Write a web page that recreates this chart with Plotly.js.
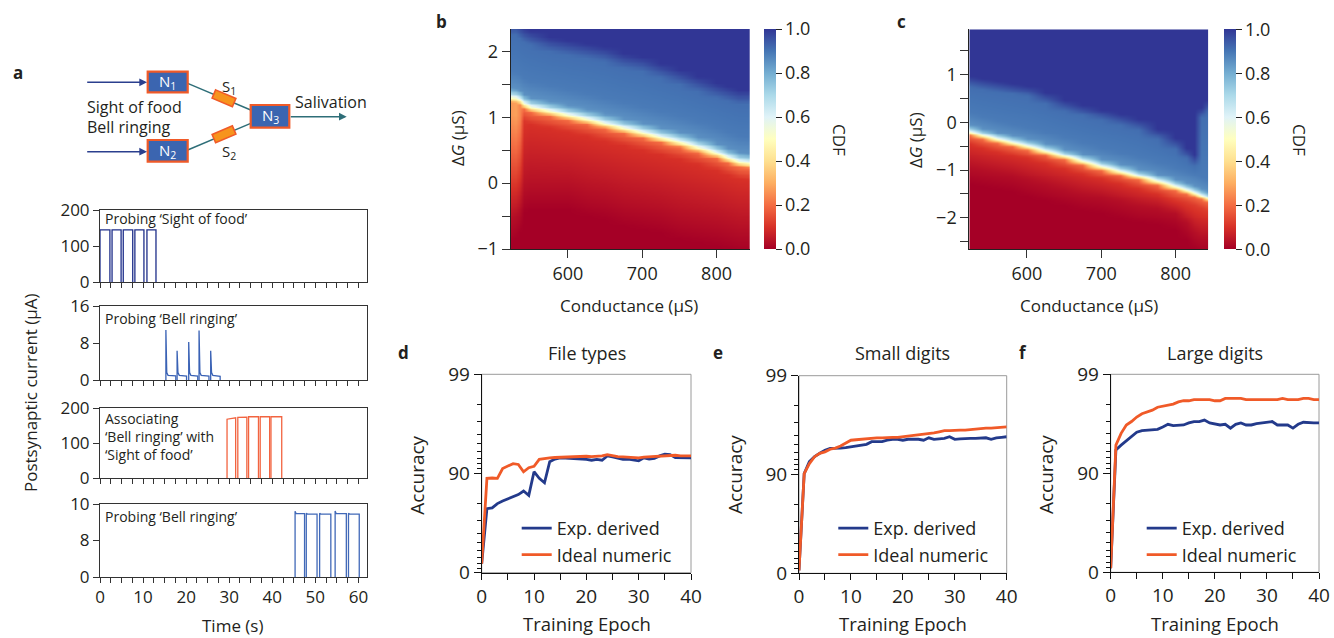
<!DOCTYPE html>
<html><head><meta charset="utf-8">
<script src="https://cdn.plot.ly/plotly-3.0.1.min.js"></script>
<style>html,body{margin:0;padding:0;background:#fff;}#chart{width:1334px;height:638px;}</style>
</head><body><div id="chart"></div>
<script>
// ================= DATA =================
// Panel a: pulse trains (time in s, current in µA)
const sofStart = [0, 2.8, 5.4, 8.1, 10.9];
const sofEnd   = [2.3, 4.9, 7.6, 10.2, 13.0];
const sofAmp   = [145, 145, 145, 145, 145];

const bellStart = [15.3, 17.9, 20.6, 23.0, 25.7];
const bellEnd   = [17.6, 20.1, 22.7, 25.3, 27.9];
const bellPeak  = [10.8, 6.3, 8.2, 10.7, 6.3];
const bellHold  = [0.9, 0.85, 0.85, 0.85, 0.8];

const assocStart = [29.5, 32.0, 34.5, 37.2, 39.7];
const assocEnd   = [31.5, 34.1, 36.8, 39.4, 42.2];
const assocTopA  = [168, 173, 175, 175, 175];
const assocTopB  = [172, 174, 175, 175, 175];

const probeStart = [45.3, 47.9, 51.0, 54.6, 57.7];
const probeEnd   = [47.5, 50.4, 53.6, 57.2, 60.2];
const probeOnset = [9.6, 9.5, 9.5, 9.62, 9.5];
const probeAmp   = [9.47, 9.45, 9.45, 9.47, 9.45];

// Panel b: CDF map landmarks per conductance column (µS)
const bCond = [523, 530, 535, 540, 550, 575, 600, 625, 650, 675, 700, 725, 750, 775, 800, 815, 830, 845];
const bMid  = [1.30, 1.29, 1.26, 1.20, 1.15, 1.09, 1.03, 0.97, 0.90, 0.83, 0.76, 0.69, 0.62, 0.54, 0.45, 0.38, 0.32, 0.30];
const bTop  = [2.25, 2.25, 2.2, 2.15, 2.1, 2.0, 1.95, 1.9, 1.85, 1.75, 1.7, 1.6, 1.5, 1.4, 1.3, 1.25, 1.2, 1.2];
const bLow  = [-0.55, -0.5, -0.4, -0.1, -0.05, -0.05, -0.05, -0.15, -0.2, -0.3, -0.35, -0.4, -0.5, -0.55, -0.6, -0.65, -0.7, -0.7];
const bRed  = [0.27, 0.28, 0.24, 0.11, 0.1, 0.1, 0.1, 0.1, 0.1, 0.1, 0.1, 0.1, 0.1, 0.1, 0.1, 0.1, 0.1, 0.1];

// Panel c
const cCond = [522, 540, 560, 580, 600, 625, 650, 675, 700, 725, 750, 775, 800, 815, 825, 835, 844];
const cMid  = [-0.2, -0.28, -0.36, -0.43, -0.5, -0.6, -0.71, -0.82, -0.93, -1.03, -1.13, -1.24, -1.35, -1.42, -1.48, -1.54, -1.6];
const cTop  = [0.75, 0.7, 0.65, 0.6, 0.55, 0.4, 0.25, 0.15, 0.05, -0.05, -0.15, -0.35, -0.55, -0.75, -0.9, 0.1, 0.25];
const cLow  = [-0.95, -1.0, -1.05, -1.1, -1.2, -1.3, -1.4, -1.5, -1.55, -1.65, -1.75, -1.8, -1.9, -2.1, -2.3, -2.4, -2.4];
const cRed  = [0.1, 0.1, 0.1, 0.1, 0.1, 0.1, 0.1, 0.1, 0.1, 0.1, 0.1, 0.1, 0.12, 0.12, 0.12, 0.12, 0.12];

// Panels d-f: accuracy (%) per training epoch
const epochs = [0,1,2,3,4,5,6,7,8,9,10,11,12,13,14,15,16,17,18,19,20,21,22,23,24,25,26,27,28,29,30,31,32,33,34,35,36,37,38,39,40];
const expD = [18.9, 77.4, 77.8, 79.9, 81.1, 82.1, 83.1, 83.7, 85.0, 83.4, 90.4, 88.8, 87.6, 92.4, 92.85, 93.05, 93.0, 92.95, 92.95, 92.85, 92.8, 92.65, 92.8, 92.65, 93.35, 93.2, 93.05, 92.8, 92.85, 92.65, 92.55, 93.05, 92.85, 92.95, 93.35, 93.6, 93.55, 93.1, 93.1, 93.0, 93.05];
const idealD = [18.9, 88.8, 88.9, 88.8, 91.1, 91.55, 92.05, 91.9, 90.4, 91.25, 91.55, 92.8, 92.95, 93.05, 93.1, 93.15, 93.15, 93.15, 93.2, 93.25, 93.3, 93.25, 93.3, 93.35, 93.55, 93.35, 93.25, 93.2, 93.15, 93.1, 93.05, 93.15, 93.2, 93.25, 93.25, 93.25, 93.35, 93.45, 93.35, 93.35, 93.35];
const expE = [6.7, 90.2, 92.6, 93.4, 93.9, 94.3, 94.55, 94.55, 94.6, 94.65, 94.75, 94.8, 94.95, 95.05, 95.35, 95.35, 95.35, 95.5, 95.6, 95.6, 95.5, 95.6, 95.6, 95.6, 95.5, 95.75, 95.6, 95.65, 95.7, 95.85, 95.6, 95.65, 95.7, 95.7, 95.7, 95.7, 95.75, 95.6, 95.75, 95.8, 95.85];
const idealE = [6.7, 90.2, 92.25, 93.4, 93.9, 94.1, 94.45, 94.6, 94.85, 95.15, 95.5, 95.55, 95.6, 95.7, 95.75, 95.75, 95.75, 95.8, 95.8, 95.8, 95.85, 95.95, 96.0, 96.05, 96.1, 96.15, 96.2, 96.3, 96.4, 96.4, 96.45, 96.45, 96.45, 96.5, 96.5, 96.55, 96.6, 96.6, 96.65, 96.65, 96.7];
const expF = [9, 94.2, 94.8, 95.3, 95.75, 96.15, 96.3, 96.35, 96.35, 96.4, 96.6, 96.8, 96.7, 96.75, 96.75, 96.9, 97.0, 97.0, 97.1, 96.9, 96.8, 96.75, 96.8, 96.5, 96.8, 96.9, 96.75, 96.75, 96.85, 96.9, 96.9, 97.0, 96.75, 96.75, 96.75, 96.5, 96.8, 96.95, 96.9, 96.9, 96.9];
const idealF = [9, 94.8, 96.05, 96.75, 97.0, 97.3, 97.5, 97.6, 97.7, 97.85, 97.9, 97.95, 98.0, 98.1, 98.15, 98.15, 98.2, 98.2, 98.2, 98.2, 98.15, 98.15, 98.25, 98.25, 98.25, 98.25, 98.2, 98.2, 98.2, 98.2, 98.2, 98.2, 98.2, 98.25, 98.2, 98.2, 98.2, 98.25, 98.25, 98.2, 98.2];

const accTickVals = [100, 10, 1];          // error = 100 - accuracy
const accTickText = ['0', '90', '99'];
const seriesNames = ['Exp. derived', 'Ideal numeric'];
const panelTitles = ['File types', 'Small digits', 'Large digits'];

// ================= HELPERS =================
const W = 1334, H = 638;
const FONT = 'Open Sans, Noto Sans, sans-serif';
const TXT = '#231f20';
const xd = (a, b) => [a / W, b / W];
const yd = (t, b) => [1 - b / H, 1 - t / H];
const px = x => x / W;
const py = y => 1 - y / H;

const NAVY = '#233a8b', ORANGE = '#f05a28';

function squarePulses(st, en, topA, topB) {
  const x = [], y = [];
  st.forEach((s, i) => {
    x.push(s, s, en[i], en[i], null); y.push(0, topA[i], topB[i], 0, null);
  });
  return {x, y};
}
function bellPulses() {
  const x = [], y = [];
  bellStart.forEach((s, i) => {
    x.push(s, s, s + 0.2, s + 0.5, bellEnd[i], bellEnd[i], null);
    y.push(0, bellPeak[i], 1.6, 1.0, bellHold[i], 0, null);
  });
  return {x, y};
}
// last panel-a axis: 0..8 and 8..10 take equal height (as in the figure)
const brokenScale = v => v <= 8 ? v / 8 : 1 + (v - 8) / 2;
function probePulses() {
  const x = [], y = [];
  probeStart.forEach((s, i) => {
    x.push(s, s, s + 0.25, probeEnd[i], probeEnd[i], null);
    y.push(0, brokenScale(probeOnset[i]), brokenScale(probeAmp[i]), brokenScale(probeAmp[i]), 0, null);
  });
  return {x, y};
}

function buildCDF(cond, mid, top, low, red, gMin, gMax) {
  const ys = [];
  for (let g = gMin; g <= gMax + 1e-9; g += 0.02) ys.push(+g.toFixed(3));
  const z = ys.map(g => cond.map((c, i) => {
    const a = [[low[i] - 0.35, 0.0], [low[i], 0.03], [mid[i] - 0.25, red[i]],
               [mid[i] - 0.07, Math.max(red[i], 0.2)], [mid[i], 0.5], [mid[i] + 0.07, 0.72],
               [mid[i] + 0.15, 0.85], [mid[i] + 0.4, 0.89], [top[i], 0.91], [top[i] + 0.22, 1.0]];
    for (let k = 1; k < a.length; k++) if (a[k][0] <= a[k - 1][0]) a[k][0] = a[k - 1][0] + 0.01;
    if (g <= a[0][0]) return a[0][1];
    for (let k = 1; k < a.length; k++) {
      if (g <= a[k][0]) {
        const f = (g - a[k - 1][0]) / (a[k][0] - a[k - 1][0]);
        return a[k - 1][1] + f * (a[k][1] - a[k - 1][1]);
      }
    }
    return 1.0;
  }));
  return {ys, z};
}

const rdylbu = [[0, '#a50026'], [0.1, '#d73027'], [0.2, '#f46d43'], [0.3, '#fdae61'], [0.4, '#fee090'],
  [0.5, '#ffffbf'], [0.6, '#e0f3f8'], [0.7, '#abd9e9'], [0.8, '#74add1'], [0.9, '#4575b4'], [1, '#313695']];

// ================= TRACES =================
const traces = [];
const p1 = squarePulses(sofStart, sofEnd, sofAmp, sofAmp);
traces.push({type: 'scatter', mode: 'lines', x: p1.x, y: p1.y, xaxis: 'x', yaxis: 'y', line: {color: '#1f2f8a', width: 1.3}, showlegend: false, hoverinfo: 'skip'});
const p2 = bellPulses();
traces.push({type: 'scatter', mode: 'lines', x: p2.x, y: p2.y, xaxis: 'x2', yaxis: 'y2', line: {color: '#3a62b5', width: 1.3}, showlegend: false, hoverinfo: 'skip'});
const p3 = squarePulses(assocStart, assocEnd, assocTopA, assocTopB);
traces.push({type: 'scatter', mode: 'lines', x: p3.x, y: p3.y, xaxis: 'x3', yaxis: 'y3', line: {color: '#f26440', width: 1.3}, showlegend: false, hoverinfo: 'skip'});
const p4 = probePulses();
traces.push({type: 'scatter', mode: 'lines', x: p4.x, y: p4.y, xaxis: 'x4', yaxis: 'y4', line: {color: '#4169b8', width: 1.3}, showlegend: false, hoverinfo: 'skip'});

const hb = buildCDF(bCond, bMid, bTop, bLow, bRed, -1.0, 2.36);
const hc = buildCDF(cCond, cMid, cTop, cLow, cRed, -2.68, 1.96);
function cbar(x0, top, bottom) {
  return {x: px(x0), xanchor: 'left', xpad: 0, ypad: 0, y: py((top + bottom) / 2), yanchor: 'middle',
    len: (bottom - top) / H, lenmode: 'fraction', thickness: 12, thicknessmode: 'pixels', outlinewidth: 0,
    tickvals: [0, 0.2, 0.4, 0.6, 0.8, 1.0], ticktext: ['0.0', '0.2', '0.4', '0.6', '0.8', '1.0'],
    ticks: 'outside', ticklen: 6, tickcolor: '#222', tickfont: {family: FONT, size: 18, color: TXT}};
}
traces.push({type: 'heatmap', x: bCond, y: hb.ys, z: hb.z, xaxis: 'x5', yaxis: 'y5', zmin: 0, zmax: 1,
  colorscale: rdylbu, zsmooth: 'best', colorbar: cbar(764, 29, 249), hoverinfo: 'skip'});
traces.push({type: 'heatmap', x: cCond, y: hc.ys, z: hc.z, xaxis: 'x6', yaxis: 'y6', zmin: 0, zmax: 1,
  colorscale: rdylbu, zsmooth: 'best', colorbar: cbar(1224, 29.3, 249.3), hoverinfo: 'skip'});

const accSets = [[expD, idealD], [expE, idealE], [expF, idealF]];
const legendIds = ['legend', 'legend2', 'legend3'];
accSets.forEach((pair, k) => {
  [NAVY, ORANGE].forEach((col, j) => {
    traces.push({type: 'scatter', mode: 'lines', x: epochs, y: pair[j].map(a => 100 - a),
      xaxis: 'x' + (7 + k), yaxis: 'y' + (7 + k), name: seriesNames[j], legend: legendIds[k],
      line: {color: col, width: 2.8}, hoverinfo: 'skip'});
  });
});

// ================= LAYOUT =================
const baseAx = {showgrid: false, zeroline: false, showline: true, linecolor: '#333', linewidth: 1,
  ticks: 'outside', tickcolor: '#333', tickfont: {family: FONT, size: 17, color: TXT}};
function aX(dom, labels) {
  return Object.assign({}, baseAx, {domain: dom, range: [0, 62], tickmode: 'linear', tick0: 0, dtick: 10,
    showticklabels: labels, ticklen: 5, mirror: true,
    minor: {tickmode: 'linear', tick0: 0, dtick: 2.5, ticks: 'outside', ticklen: 5, tickcolor: '#333', showgrid: false}});
}
function aY(dom, range, tv, tt, anchor) {
  return Object.assign({}, baseAx, {domain: dom, range: range, tickmode: 'array', tickvals: tv, ticktext: tt,
    ticklen: 6, mirror: true, anchor: anchor});
}
function hmX(dom, range, anchor) {
  return Object.assign({}, baseAx, {domain: dom, range: range, tickvals: [600, 700, 800], ticklen: 8,
    tickfont: {family: FONT, size: 18, color: TXT}, anchor: anchor, linecolor: '#222'});
}
function hmY(dom, range, anchor) {
  return Object.assign({}, baseAx, {domain: dom, range: range, tickmode: 'linear', tick0: 0, dtick: 1,
    ticklen: 8, tickfont: {family: FONT, size: 18, color: TXT}, anchor: anchor, linecolor: '#222',
    minor: {tickmode: 'linear', tick0: 0, dtick: 0.5, ticks: 'outside', ticklen: 8, tickcolor: '#333', showgrid: false}});
}
const minorVals = [2, 3, 4, 5, 6, 7, 8, 9, 20, 30, 40, 50, 60, 70, 80, 90];
function accX(dom, anchor) {
  return Object.assign({}, baseAx, {domain: dom, range: [0, 40], tickmode: 'linear', tick0: 0, dtick: 10,
    ticklen: 6, linecolor: '#111', tickcolor: '#111', anchor: anchor,
    tickfont: {family: FONT, size: 19, color: TXT},
    minor: {tickmode: 'linear', tick0: 0, dtick: 5, ticks: 'outside', ticklen: 6, tickcolor: '#111', showgrid: false}});
}
function accY(dom, anchor) {
  return Object.assign({}, baseAx, {domain: dom, type: 'log', range: [2, 0], tickmode: 'array',
    tickvals: accTickVals, ticktext: accTickText, ticklen: 7, linecolor: '#111', tickcolor: '#111', anchor: anchor,
    tickfont: {family: FONT, size: 19, color: TXT},
    minor: {tickmode: 'array', tickvals: minorVals, ticks: 'outside', ticklen: 4, tickcolor: '#111', showgrid: false}});
}

const layout = {
  width: W, height: H, margin: {l: 0, r: 0, t: 0, b: 0}, paper_bgcolor: '#fff', plot_bgcolor: 'rgba(0,0,0,0)',
  font: {family: FONT, color: TXT},
  xaxis: aX(xd(100, 367), false), yaxis: aY(yd(210, 282), [0, 200], [0, 100, 200], ['0', '100', '200'], 'x'),
  xaxis2: Object.assign(aX(xd(100, 367), false), {anchor: 'y2'}), yaxis2: aY(yd(306, 380), [0, 16], [0, 8, 16], ['0', '8', '16'], 'x2'),
  xaxis3: Object.assign(aX(xd(100, 367), false), {anchor: 'y3'}), yaxis3: aY(yd(408, 478), [0, 200], [0, 100, 200], ['0', '100', '200'], 'x3'),
  xaxis4: Object.assign(aX(xd(100, 367), true), {anchor: 'y4'}), yaxis4: aY(yd(504, 577), [0, 2], [0, 1, 2], ['0', '8', '10'], 'x4'),
  xaxis5: hmX(xd(510.7, 750), [523, 845], 'y5'), yaxis5: hmY(yd(29, 249), [-1, 2.34], 'x5'),
  xaxis6: hmX(xd(969.3, 1208.3), [522.4, 844], 'y6'), yaxis6: hmY(yd(29.3, 249.3), [-2.66, 1.95], 'x6'),
  xaxis7: accX(xd(481.7, 691), 'y7'), yaxis7: accY(yd(374.3, 572.7), 'x7'),
  xaxis8: accX(xd(799, 1006.7), 'y8'), yaxis8: accY(yd(375.7, 573.3), 'x8'),
  xaxis9: accX(xd(1110.7, 1319), 'y9'), yaxis9: accY(yd(374.3, 572.3), 'x9'),
  showlegend: true,
  shapes: [], annotations: []
};
const legBase = {xanchor: 'left', yanchor: 'top', bgcolor: 'rgba(0,0,0,0)', borderwidth: 0,
  font: {family: FONT, size: 18, color: TXT}, tracegroupgap: 0, itemclick: false, itemdoubleclick: false};
layout.legend = Object.assign({}, legBase, {x: px(516.7), y: py(510)});
layout.legend2 = Object.assign({}, legBase, {x: px(833.3), y: py(510)});
layout.legend3 = Object.assign({}, legBase, {x: px(1141.7), y: py(510)});

// gray frames on top/right of d-f
['7', '8', '9'].forEach(n => {
  layout.shapes.push({type: 'rect', xref: 'x' + n + ' domain', yref: 'y' + n + ' domain', x0: 0, x1: 1, y0: 0, y1: 1,
    line: {color: '#9a9a9a', width: 1}, layer: 'below'});
});

// ---- panel a schematic ----
const BOXFILL = '#3b65b0', BOXLINE = '#f05a28', TEAL = '#2e6e78', INNAVY = '#2b3f8e';
function box(x0, y0, x1, y1) {
  layout.shapes.push({type: 'rect', xref: 'paper', yref: 'paper', x0: px(x0), x1: px(x1), y0: py(y1), y1: py(y0),
    fillcolor: BOXFILL, line: {color: BOXLINE, width: 2.2}, layer: 'above'});
}
function seg(x0, y0, x1, y1, col) {
  layout.shapes.push({type: 'line', xref: 'paper', yref: 'paper', x0: px(x0), x1: px(x1), y0: py(y0), y1: py(y1),
    line: {color: col, width: 1.4}, layer: 'above'});
}
function synapse(cx, cy, ang) {
  const L = 11, Wd = 4.5, c = Math.cos(ang), s = Math.sin(ang);
  const pts = [[-L, -Wd], [L, -Wd], [L, Wd], [-L, Wd]].map(([u, v]) => [cx + u * c - v * s, cy + u * s + v * c]);
  const d = 'M' + pts.map(p => px(p[0]) + ',' + py(p[1])).join(' L') + ' Z';
  layout.shapes.push({type: 'path', xref: 'paper', yref: 'paper', path: d, fillcolor: '#f7941d',
    line: {color: BOXLINE, width: 1.6}, layer: 'above'});
}
seg(187.7, 83.3, 250.7, 110, TEAL);
seg(187.7, 150, 250.7, 123.3, TEAL);
synapse(224, 98.3, Math.atan2(26.7, 63));
synapse(224, 134.3, Math.atan2(-26.7, 63));
box(147.7, 71.7, 187.7, 92.3);
box(147.7, 140, 187.7, 161.7);
box(250.7, 105, 289.3, 127.7);
function arrow(hx, hy, tx, ty, col) {
  layout.annotations.push({xref: 'paper', yref: 'paper', x: px(hx), y: py(hy), ax: tx - hx, ay: ty - hy,
    text: '', showarrow: true, arrowhead: 2, arrowsize: 1.1, arrowwidth: 1.4, arrowcolor: col, standoff: 0});
}
arrow(147, 82.3, 85.7, 82.3, INNAVY);
arrow(147, 151.7, 85.7, 151.7, INNAVY);
arrow(346.7, 116.7, 289.3, 116.7, TEAL);

function txt(t, x, y, size, opts) {
  layout.annotations.push(Object.assign({xref: 'paper', yref: 'paper', x: px(x), y: py(y), text: t, showarrow: false,
    xanchor: 'center', yanchor: 'middle', font: {family: FONT, size: size, color: TXT}}, opts || {}));
}
txt('N<sub>1</sub>', 167.7, 81.5, 15, {font: {family: FONT, size: 15, color: '#fff'}});
txt('N<sub>2</sub>', 167.7, 150.5, 15, {font: {family: FONT, size: 15, color: '#fff'}});
txt('N<sub>3</sub>', 270, 116, 15, {font: {family: FONT, size: 15, color: '#fff'}});
txt('S<sub>1</sub>', 229, 87, 15);
txt('S<sub>2</sub>', 229, 152, 15);
txt('Sight of food', 85, 106.7, 16, {xanchor: 'left'});
txt('Bell ringing', 85, 126.7, 16, {xanchor: 'left'});
txt('Salivation', 293, 101.7, 16, {xanchor: 'left'});

// ---- panel labels ----
const bold = (t, x, y) => txt('<b>' + t + '</b>', x, y, 17);
bold('a', 18, 73); bold('b', 441, 22); bold('c', 901, 22); bold('d', 403, 352); bold('e', 718, 352); bold('f', 1023, 352);

// ---- panel a texts ----
txt('Probing \u2018Sight of food\u2019', 103, 218, 14, {xanchor: 'left'});
txt('Probing \u2018Bell ringing\u2019', 103, 318, 14, {xanchor: 'left'});
txt('Associating<br>\u2018Bell ringing\u2019 with<br>\u2018Sight of food\u2019', 103, 436, 14, {xanchor: 'left', align: 'left'});
txt('Probing \u2018Bell ringing\u2019', 103, 516.7, 14, {xanchor: 'left'});
txt('Postsynaptic current (\u03bcA)', 30, 393, 17, {textangle: -90});
txt('Time (s)', 233, 625, 17);

// ---- panels b, c texts ----
txt('Conductance (\u03bcS)', 629, 305, 17);
txt('\u0394<i>G</i> (\u03bcS)', 457, 138, 17, {textangle: -90});
txt('CDF', 840, 140, 17, {textangle: 90});
txt('Conductance (\u03bcS)', 1089, 305, 17);
txt('\u0394<i>G</i> (\u03bcS)', 915, 140, 17, {textangle: -90});
txt('CDF', 1300, 140, 17, {textangle: 90});

// ---- panels d-f texts ----
const dfX = [[586.7, 416.7], [902.7, 735], [1215, 1046]];
dfX.forEach((p, k) => {
  txt(panelTitles[k], p[0], 353, 18);
  txt('Accuracy', p[1], 475, 19, {textangle: -90});
  txt('Training Epoch', p[0], 623, 18.5);
});

Plotly.newPlot('chart', traces, layout, {displayModeBar: false, staticPlot: true});
</script>
</body></html>
